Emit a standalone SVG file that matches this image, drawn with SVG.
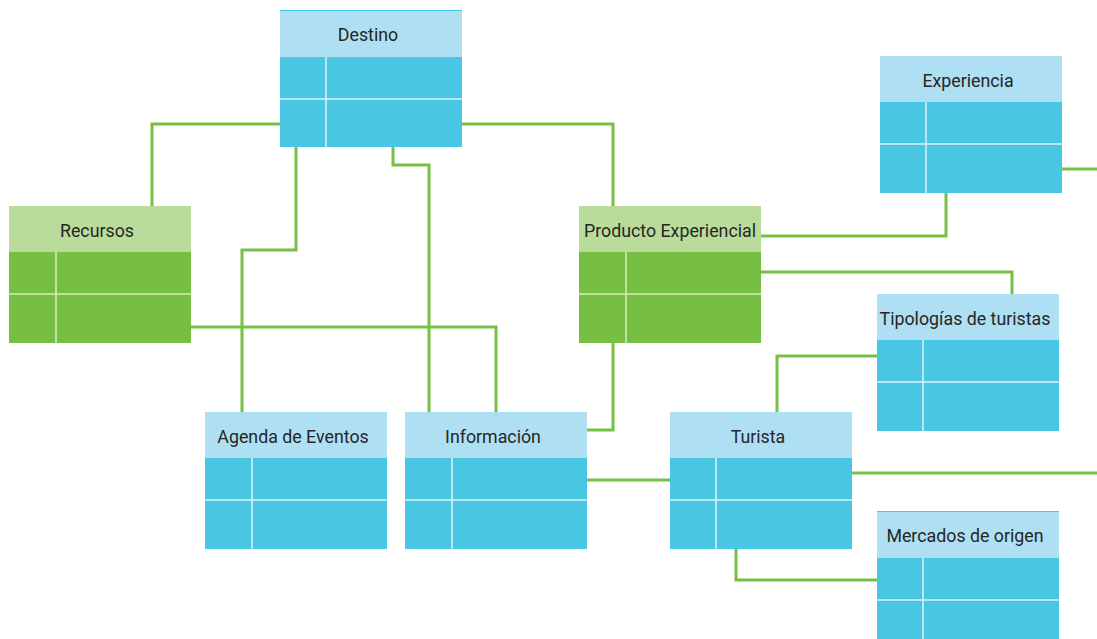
<svg xmlns="http://www.w3.org/2000/svg" width="1097" height="639" viewBox="0 0 1097 639">
<style>
.hb{fill:#AEDFF2}.bb{fill:#4AC6E5}.hg{fill:#B9DC9B}.bg{fill:#76BF43}
.dv{stroke:#DDF2F9;stroke-width:1.5;fill:none}
.dg{stroke:#D6EBC6;stroke-width:1.5;fill:none}
.t{font-family:Roboto,"Noto Sans",sans-serif;font-size:17.8px;fill:#262626;text-anchor:middle}
.c{stroke:#76C043;stroke-width:3;fill:none}
</style>
<rect width="1097" height="639" fill="#fff"/>
<g id="connectors">
<polyline class="c" points="280,124 152,124 152,206"/>
<polyline class="c" points="462,124 613,124 613,206"/>
<polyline class="c" points="296,147 296,250 242,250 242,412"/>
<polyline class="c" points="393,147 393,165 429,165 429,412"/>
<polyline class="c" points="191,327 496,327 496,412"/>
<polyline class="c" points="761,236 946,236 946,193"/>
<polyline class="c" points="761,272 1012,272 1012,294"/>
<polyline class="c" points="613,343 613,430 587,430"/>
<polyline class="c" points="1062,169 1097,169"/>
<polyline class="c" points="877,356 777,356 777,412"/>
<polyline class="c" points="587,480 670,480"/>
<polyline class="c" points="852,473 1097,473"/>
<polyline class="c" points="736,549 736,580 877,580"/>
</g>
<g id="destino">
<rect class="hb" x="280" y="10" width="182" height="47"/>
<rect class="bb" x="280" y="57" width="182" height="90"/>
<line x1="280" y1="10.5" x2="462" y2="10.5" stroke="#4AC6E5" stroke-width="1"/>
<path class="dv" d="M280,99H462M326,57V147"/>
<text class="t" x="368" y="41">Destino</text>
</g>
<g id="recursos">
<rect class="hg" x="9" y="206" width="182" height="46"/>
<rect class="bg" x="9" y="252" width="182" height="91"/>
<path class="dg" d="M9,294H191M56,252V343"/>
<text class="t" x="97" y="237">Recursos</text>
</g>
<g id="producto">
<rect class="hg" x="579" y="206" width="182" height="46"/>
<rect class="bg" x="579" y="252" width="182" height="91"/>
<path class="dg" d="M579,294H761M626,252V343"/>
<text class="t" x="670" y="237">Producto Experiencial</text>
</g>
<g id="experiencia">
<rect class="hb" x="880" y="56" width="182" height="46"/>
<rect class="bb" x="880" y="102" width="182" height="91"/>
<path class="dv" d="M880,144H1062M926,102V193"/>
<text class="t" x="968" y="87">Experiencia</text>
</g>
<g id="tipologias">
<rect class="hb" x="877" y="294" width="182" height="46"/>
<rect class="bb" x="877" y="340" width="182" height="91"/>
<path class="dv" d="M877,382H1059M923,340V431"/>
<text class="t" x="965" y="325">Tipologías de turistas</text>
</g>
<g id="agenda">
<rect class="hb" x="205" y="412" width="182" height="46"/>
<rect class="bb" x="205" y="458" width="182" height="91"/>
<path class="dv" d="M205,500H387M252,458V549"/>
<text class="t" x="293" y="443">Agenda de Eventos</text>
</g>
<g id="informacion">
<rect class="hb" x="405" y="412" width="182" height="46"/>
<rect class="bb" x="405" y="458" width="182" height="91"/>
<path class="dv" d="M405,500H587M452,458V549"/>
<text class="t" x="493" y="443">Información</text>
</g>
<g id="turista">
<rect class="hb" x="670" y="412" width="182" height="46"/>
<rect class="bb" x="670" y="458" width="182" height="91"/>
<path class="dv" d="M670,500H852M716,458V549"/>
<text class="t" x="758" y="443">Turista</text>
</g>
<g id="mercados">
<rect class="hb" x="877" y="511" width="182" height="47"/>
<rect class="bb" x="877" y="558" width="182" height="81"/>
<line x1="877" y1="511.5" x2="1059" y2="511.5" stroke="#4AC6E5" stroke-width="1"/>
<path class="dv" d="M877,600H1059M923,558V639"/>
<text class="t" x="965" y="542">Mercados de origen</text>
</g>
</svg>
